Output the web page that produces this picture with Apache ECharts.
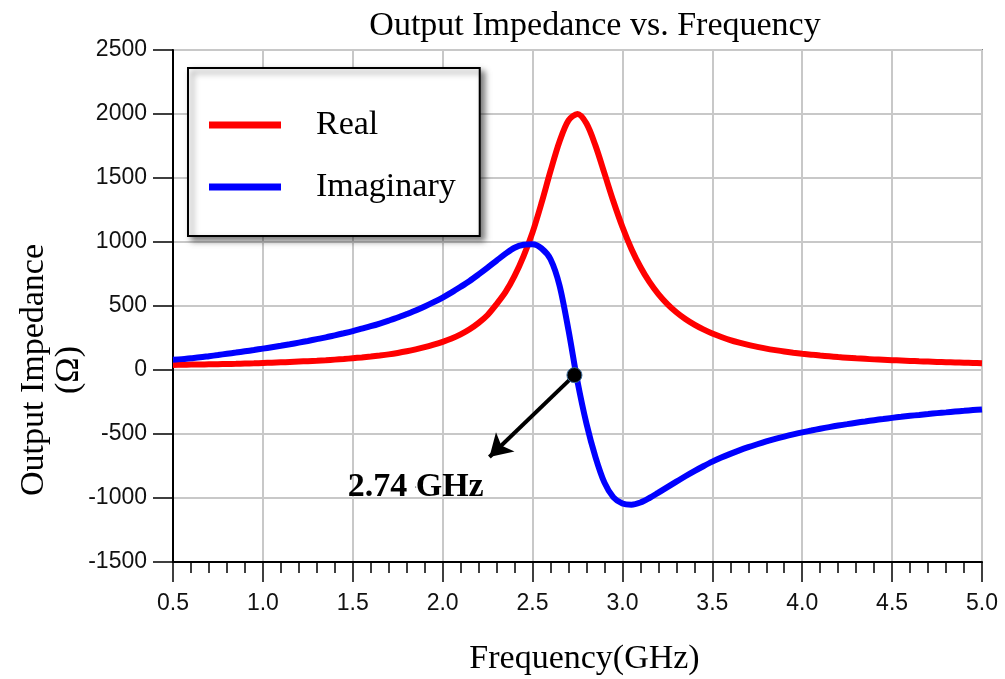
<!DOCTYPE html>
<html>
<head>
<meta charset="utf-8">
<script src="https://cdn.jsdelivr.net/npm/echarts@6/dist/echarts.min.js"></script>
<style>
html,body{margin:0;padding:0;background:#fff;}
#chart{width:1005px;height:679px;}
</style>
</head>
<body>
<div id="chart"></div>
<script>
// ---- data ----
const freqGHz = [0.5, 0.55, 0.6, 0.65, 0.7, 0.75, 0.8, 0.85, 0.9, 0.95,
  1.0, 1.05, 1.1, 1.15, 1.2, 1.25, 1.3, 1.35, 1.4, 1.45,
  1.5, 1.55, 1.6, 1.65, 1.7, 1.75, 1.8, 1.85, 1.9, 1.95,
  2.0, 2.05, 2.1, 2.15, 2.2, 2.25, 2.3, 2.35, 2.4, 2.45,
  2.5, 2.55, 2.6, 2.65, 2.7, 2.75, 2.8, 2.85, 2.9, 2.95,
  3.0, 3.05, 3.1, 3.15, 3.2, 3.25, 3.3, 3.35, 3.4, 3.45,
  3.5, 3.55, 3.6, 3.65, 3.7, 3.75, 3.8, 3.85, 3.9, 3.95,
  4.0, 4.05, 4.1, 4.15, 4.2, 4.25, 4.3, 4.35, 4.4, 4.45,
  4.5, 4.55, 4.6, 4.65, 4.7, 4.75, 4.8, 4.85, 4.9, 4.95, 5.0];
const realOhm = [40, 41, 42, 43, 44, 45, 47, 48, 50, 52,
  55, 57, 60, 63, 66, 69, 72, 76, 81, 86,
  92, 98, 105, 113, 122, 133, 146, 161, 178, 198,
  220, 246, 278, 318, 368, 430, 515, 610, 735, 890,
  1075, 1305, 1555, 1785, 1950, 2000, 1925, 1753, 1536, 1316,
  1117, 946, 805, 688, 593, 515, 451, 398, 354, 317,
  285, 258, 234, 214, 196, 181, 167, 155, 144, 135,
  127, 120, 113, 107, 101, 96, 91, 87, 83, 80,
  77, 74, 71, 68, 66, 63, 61, 59, 57, 55, 53];
const imagOhm = [80, 85, 92, 99, 108, 117, 127, 136, 146, 156,
  167, 178, 189, 201, 214, 227, 241, 255, 271, 287,
  304, 323, 342, 363, 386, 410, 437, 465, 496, 530,
  566, 606, 650, 696, 747, 800, 855, 909, 955, 978,
  982, 950, 865, 660, 310, -90, -420, -680, -880, -995,
  -1043, -1052, -1035, -1000, -958, -915, -872, -830, -790, -752,
  -716, -684, -655, -628, -603, -580, -558, -538, -520, -503,
  -487, -473, -459, -446, -434, -423, -412, -402, -392, -383,
  -374, -366, -358, -351, -344, -337, -331, -325, -319, -313, -308];
const seriesNames = ['Real', 'Imaginary'];
const markerPoint = [2.733, -40];
const arrowEnd = [2.26, -680];
const annotationPos = [1.85, -915];
const annotationText = '2.74 GHz';

const toPairs = (ys) => freqGHz.map((f, i) => [f, ys[i]]);

const chart = echarts.init(document.getElementById('chart'), null, {renderer: 'canvas'});
const serif = '"Liberation Serif", "Times New Roman", serif';
const sans = '"Liberation Sans", Arial, sans-serif';

chart.setOption({
  animation: false,
  backgroundColor: '#ffffff',
  title: {
    text: 'Output Impedance vs. Frequency',
    left: 590, top: 4, textAlign: 'center',
    textStyle: {fontFamily: serif, fontSize: 34, fontWeight: 'normal', color: '#000'}
  },
  legend: {
    orient: 'vertical', left: 188, top: 68,
    padding: [40, 24, 32, 21],
    itemGap: 28, itemWidth: 72, itemHeight: 7,
    icon: 'rect',
    backgroundColor: '#fff', borderColor: '#000', borderWidth: 2,
    shadowColor: 'rgba(0,0,0,0.5)', shadowBlur: 6, shadowOffsetX: 4, shadowOffsetY: 4,
    textStyle: {fontFamily: serif, fontSize: 34, color: '#000', padding: [0, 0, 0, 30]},
    data: seriesNames
  },
  grid: {left: 173, right: 23, top: 50, bottom: 117, show: true, borderColor: '#222', borderWidth: 1.5,
    containLabel: false, outerBoundsMode: 'none'},
  xAxis: {
    type: 'value', min: 0.5, max: 5.0, interval: 0.5,
    name: 'Frequency(GHz)', nameLocation: 'middle', nameGap: 80, nameMoveOverlap: false,
    nameTextStyle: {fontFamily: serif, fontSize: 34, color: '#000', padding: [0, 0, 0, 14]},
    axisLine: {show: true, onZero: false, lineStyle: {color: '#000', width: 2}},
    axisTick: {show: true, length: 20, lineStyle: {color: '#000', width: 1.5}},
    minorTick: {show: true, splitNumber: 5, length: 11, lineStyle: {color: '#000', width: 1.5}},
    axisLabel: {fontFamily: sans, fontSize: 23, color: '#111', margin: 30, formatter: v => v.toFixed(1)},
    splitLine: {show: true, lineStyle: {color: '#c8c8c8', width: 2}}
  },
  yAxis: {
    type: 'value', min: -1500, max: 2500, interval: 500,
    name: 'Output Impedance\n(Ω)', nameLocation: 'middle', nameGap: 86, nameRotate: 90, nameMoveOverlap: false,
    nameTextStyle: {fontFamily: serif, fontSize: 34, color: '#000', lineHeight: 35, align: 'center',
      padding: [0, 128, 0, 0]},
    axisLine: {show: true, onZero: false, lineStyle: {color: '#000', width: 2}},
    axisTick: {show: true, length: 20, lineStyle: {color: '#000', width: 1.5}},
    axisLabel: {fontFamily: sans, fontSize: 23, color: '#111', margin: 26, formatter: v => String(v)},
    splitLine: {show: true, lineStyle: {color: '#c8c8c8', width: 2}}
  },
  series: [
    {
      name: seriesNames[0], type: 'line', data: toPairs(realOhm), smooth: 0.3,
      showSymbol: false, symbol: 'none', lineStyle: {color: '#ff0000', width: 6}, itemStyle: {color: '#ff0000'}, z: 3
    },
    {
      name: seriesNames[1], type: 'line', data: toPairs(imagOhm), smooth: 0.3,
      showSymbol: false, symbol: 'none', lineStyle: {color: '#0000ff', width: 6}, itemStyle: {color: '#0000ff'}, z: 4
    },
    {
      name: 'marker', type: 'scatter', data: [markerPoint], symbolSize: 15, z: 6,
      itemStyle: {color: '#000', borderColor: '#3a6a9a', borderWidth: 1, opacity: 1},
      markLine: {
        silent: true, symbol: ['none', 'arrow'], symbolSize: [20, 22],
        lineStyle: {color: '#000', width: 4, type: 'solid', opacity: 1},
        label: {show: false},
        data: [[{coord: markerPoint}, {coord: arrowEnd}]]
      }
    },
    {
      name: 'annotation', type: 'scatter', data: [annotationPos], symbolSize: 1, z: 6,
      itemStyle: {color: '#000', opacity: 1},
      label: {show: true, position: 'inside', formatter: annotationText,
        fontFamily: serif, fontSize: 34, fontWeight: 'bold', color: '#000', opacity: 1}
    }
  ]
});
</script>
</body>
</html>
